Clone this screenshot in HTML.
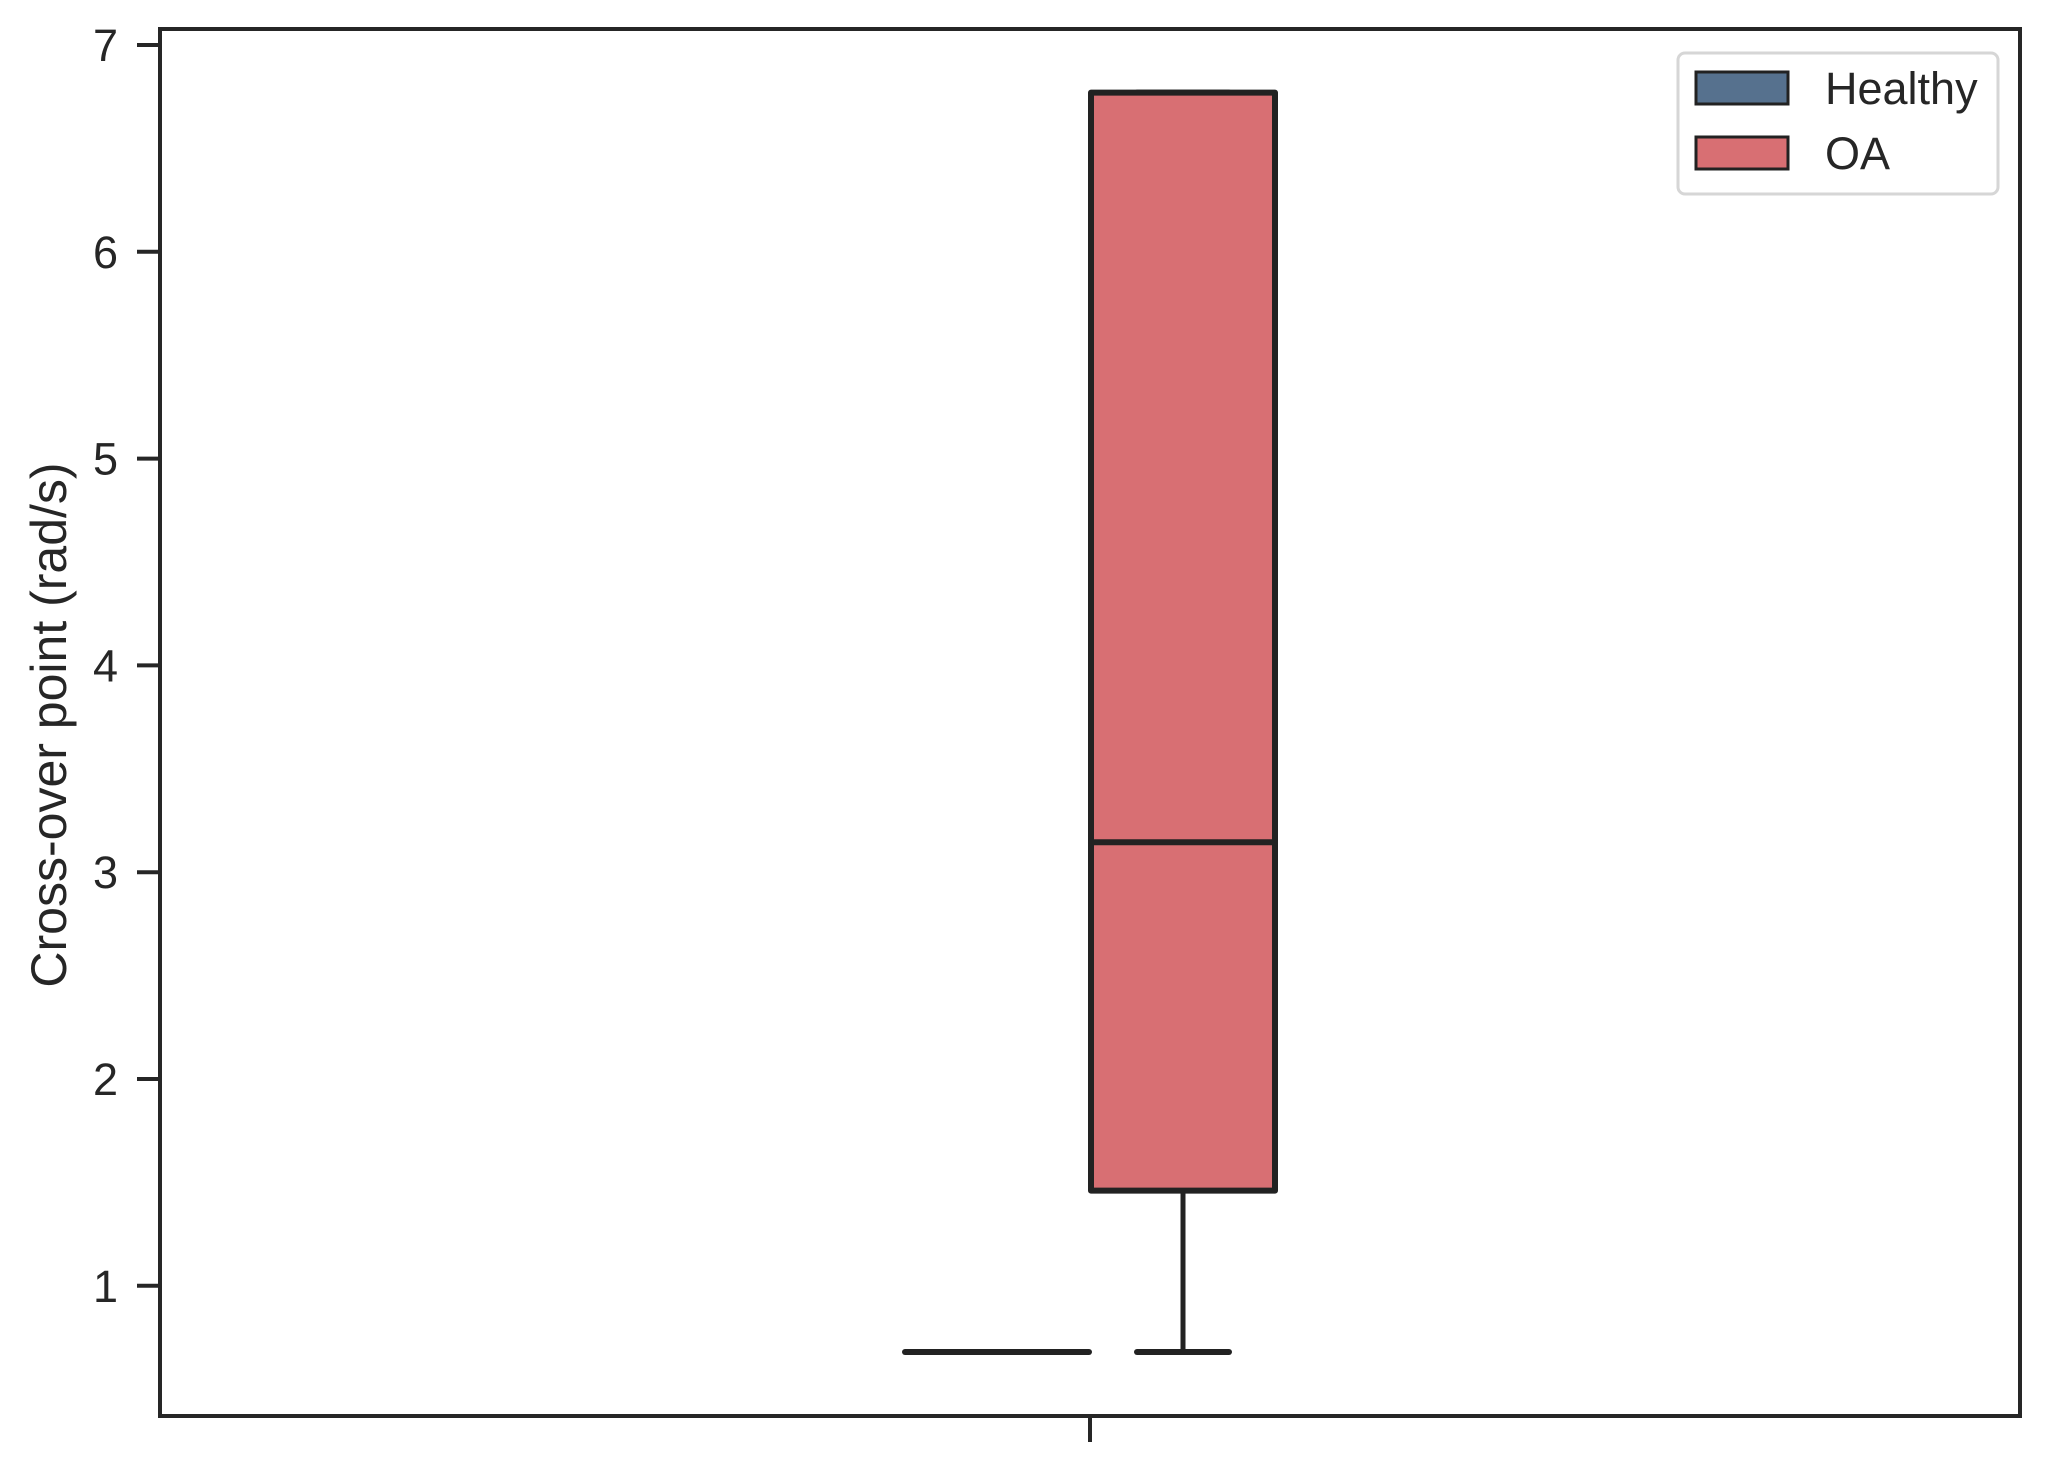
<!DOCTYPE html>
<html><head><meta charset="utf-8"><style>
html,body{margin:0;padding:0;background:#fff;}
svg{display:block;font-family:"Liberation Sans",Arial,sans-serif;}
</style></head><body>
<svg id="chart" width="2049" height="1471" viewBox="0 0 2049 1471" xmlns="http://www.w3.org/2000/svg">
<rect x="0" y="0" width="2049" height="1471" fill="#fff"/>
<g id="marks"></g>
<g id="yticks"></g>
<rect x="160" y="29" width="1860" height="1387" fill="none" stroke="#262626" stroke-width="4"/>
<line x1="1090" y1="1416" x2="1090" y2="1442" stroke="#262626" stroke-width="4"/>
<text x="0" y="0" transform="translate(66,725) rotate(-90)" text-anchor="middle" font-size="50" fill="#262626">Cross-over point (rad/s)</text>
<g>
<rect x="1678" y="53" width="320" height="141" rx="7" fill="#fff" stroke="#d6d6d6" stroke-width="3"/>
<rect x="1696" y="72" width="92" height="32" fill="#56718e" stroke="#222" stroke-width="3"/>
<text x="1825" y="104" font-size="45" fill="#262626">Healthy</text>
<rect x="1696" y="137" width="92" height="32" fill="#d86f73" stroke="#222" stroke-width="3"/>
<text x="1825" y="169" font-size="45" fill="#262626">OA</text>
</g>
</svg>
<script>
const groups = ["Healthy", "OA"];
const whiskerLow = [0.68, 0.68];
const q1 = [0.68, 1.46];
const median = [0.68, 3.145];
const q3 = [0.68, 6.77];
const whiskerHigh = [0.68, 6.77];
const colors = ["#56718e", "#d86f73"];
const yTicks = [1, 2, 3, 4, 5, 6, 7];

const NS = "http://www.w3.org/2000/svg";
function y(v){ return 45 + (7 - v) * 206.8; }
function xc(i){ return 997 + i * 186; }
const halfW = 92;
function mk(tag, attrs, parent){
  const e = document.createElementNS(NS, tag);
  for (const k in attrs) e.setAttribute(k, attrs[k]);
  parent.appendChild(e);
  return e;
}
const marks = document.getElementById("marks");
groups.forEach((g, i) => {
  const c = xc(i);
  const w1 = mk("line", {x1:c, x2:c, y1:y(whiskerLow[i]), y2:y(q1[i]), stroke:"#222", "stroke-width":5}, marks);
  
  
  const w2 = mk("line", {x1:c, x2:c, y1:y(whiskerHigh[i]), y2:y(q3[i]), stroke:"#222", "stroke-width":5}, marks);
  
  
  const cap1 = mk("line", {x1:c-46, x2:c+46, y1:y(whiskerLow[i]), y2:y(whiskerLow[i]), stroke:"#222", "stroke-width":6, "stroke-linecap":"round"}, marks);
  
  
  const cap2 = mk("line", {x1:c-46, x2:c+46, y1:y(whiskerHigh[i]), y2:y(whiskerHigh[i]), stroke:"#222", "stroke-width":6, "stroke-linecap":"round"}, marks);
  
  
  const top = y(q3[i]), bot = y(q1[i]);
  const box = mk("rect", {x:c-halfW, y:top, width:halfW*2, height:Math.max(bot-top,0), fill:colors[i], stroke:"#222", "stroke-width":6, "stroke-linejoin":"round"}, marks);
  
  
  const med = mk("line", {x1:c-halfW, x2:c+halfW, y1:y(median[i]), y2:y(median[i]), stroke:"#222", "stroke-width":6, "stroke-linecap":"round"}, marks);
  
  
});
const yt = document.getElementById("yticks");
yTicks.forEach(t => {
  const l = mk("line", {x1:137, x2:160, y1:y(t), y2:y(t), stroke:"#262626", "stroke-width":4}, yt);
  
  
  const tx = mk("text", {x:118, y:y(t)+16, "text-anchor":"end", "font-size":45, fill:"#262626"}, yt);
  tx.textContent = t;
  
  
});
</script>
</body></html>
